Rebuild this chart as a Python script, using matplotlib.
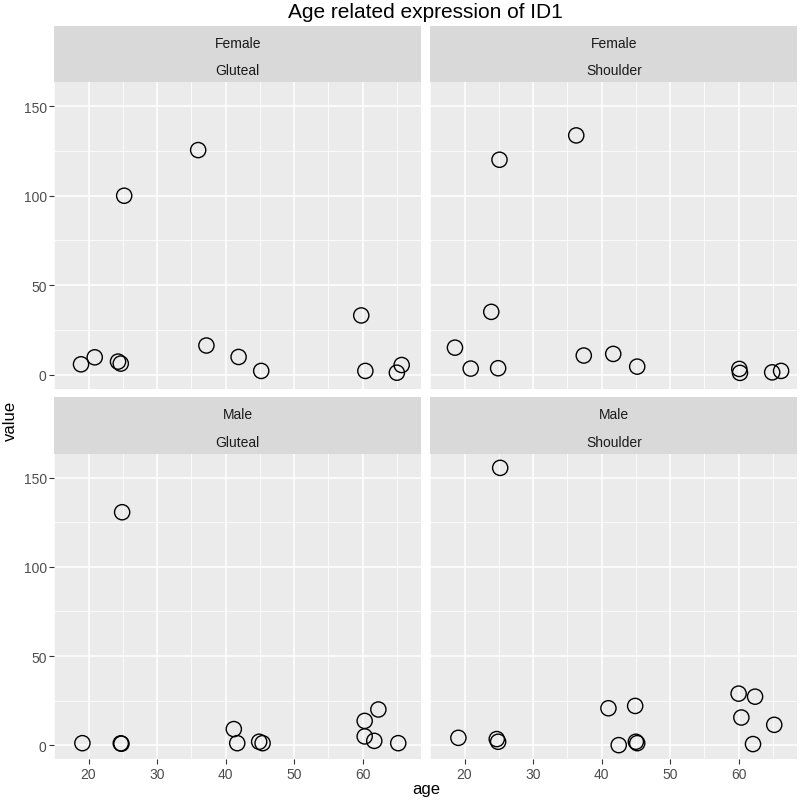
import matplotlib
matplotlib.use("Agg")
import matplotlib.pyplot as plt
import numpy as np

plt.rcParams['font.family'] = ['Liberation Sans', 'DejaVu Sans']

# ---- data ----
sex_levels = ["Female", "Female", "Male", "Male"]
site_levels = ["Gluteal", "Shoulder", "Gluteal", "Shoulder"]

fg_age = [18.9, 20.9, 24.3, 24.7, 25.2, 36.0, 37.2, 41.9, 45.2, 59.8, 60.4, 65.0, 65.7]
fg_val = [5.8, 9.7, 7.3, 6.2, 100.0, 125.5, 16.3, 9.9, 2.1, 33.1, 2.1, 1.1, 5.4]

fs_age = [18.6, 20.9, 23.9, 25.1, 24.9, 36.3, 37.4, 41.7, 45.2, 60.1, 60.2, 64.9, 66.2]
fs_val = [15.1, 3.4, 35.1, 120.1, 3.6, 133.7, 10.7, 11.6, 4.5, 3.2, 1.0, 1.3, 2.1]

mg_age = [19.1, 24.7, 24.8, 24.9, 41.2, 41.7, 44.9, 45.4, 60.3, 60.3, 62.3, 61.7, 65.2]
mg_val = [1.1, 1.0, 0.8, 130.7, 9.0, 1.1, 1.9, 1.1, 13.6, 4.9, 20.0, 2.4, 1.1]

ms_age = [19.1, 24.7, 24.9, 25.2, 41.0, 44.9, 42.5, 45.0, 45.2, 60.0, 62.4, 60.4, 65.2, 62.1]
ms_val = [4.1, 3.4, 1.9, 155.6, 20.7, 22.0, 0.0, 1.9, 1.1, 28.9, 27.2, 15.5, 11.4, 0.6]

x_ticks = [20, 30, 40, 50, 60]
y_ticks = [0, 50, 100, 150]
title = "Age related expression of ID1"

ages = [fg_age, fs_age, mg_age, ms_age]
vals = [fg_val, fs_val, mg_val, ms_val]

# ---- layout ----
W, H = 800, 804
fig = plt.figure(figsize=(W / 100, H / 100), dpi=100)
fig.patch.set_facecolor("white")

def rect(l, t, r, b):
    return [l / W, 1 - b / H, (r - l) / W, (b - t) / H]

cols = [(54.3, 421.4), (430.3, 797.4)]
rows = [(83.3, 389.6), (455.0, 760.0)]
strips = [(26.6, 83.3), (398.3, 455.0)]

all_x = np.concatenate([np.array(a) for a in ages])
all_y = np.concatenate([np.array(v) for v in vals])
xr = all_x.max() - all_x.min()
yr = all_y.max() - all_y.min()
xlim = (all_x.min() - 0.05 * xr, all_x.max() + 0.05 * xr)
ylim = (all_y.min() - 0.05 * yr, all_y.max() + 0.05 * yr)

for i in range(4):
    r, c = divmod(i, 2)
    l, rr = cols[c]
    t, b = rows[r]
    ax = fig.add_axes(rect(l, t, rr, b))
    ax.set_facecolor("#EBEBEB")
    for s in ax.spines.values():
        s.set_visible(False)
    ax.set_xlim(*xlim)
    ax.set_ylim(*ylim)
    ax.set_xticks(x_ticks)
    ax.set_yticks(y_ticks)
    ax.set_xticks([15, 25, 35, 45, 55, 65], minor=True)
    ax.set_yticks([25, 75, 125], minor=True)
    ax.grid(True, which="major", color="white", linewidth=1.1)
    ax.grid(True, which="minor", color="white", linewidth=0.55)
    ax.set_axisbelow(True)
    ax.tick_params(which="minor", length=0)
    ax.tick_params(which="major", length=3.5, width=0.8, color="#333333",
                   labelcolor="#4D4D4D", labelsize=10, pad=2)
    if c != 0:
        ax.tick_params(axis="y", left=False, labelleft=False)
    if r != 1:
        ax.tick_params(axis="x", bottom=False, labelbottom=False)
    ax.scatter(ages[i], vals[i], s=120, facecolors="none", edgecolors="black",
               linewidths=1.0, zorder=3)

    # strip
    st, sb = strips[r]
    sax = fig.add_axes(rect(l, st, rr, sb))
    sax.set_facecolor("#D9D9D9")
    sax.set_xticks([]); sax.set_yticks([])
    for s in sax.spines.values():
        s.set_visible(False)
    sax.text(0.5, 0.70, sex_levels[i], ha="center", va="center",
             fontsize=10, color="#1A1A1A", transform=sax.transAxes)
    sax.text(0.5, 0.215, site_levels[i], ha="center", va="center",
             fontsize=10, color="#1A1A1A", transform=sax.transAxes)

cx = (cols[0][0] + cols[1][1]) / 2
fig.text(cx / W, 1 - 12 / H, title, ha="center", va="center", fontsize=15, color="black")
fig.text(cx / W, 1 - 790 / H, "age", ha="center", va="center", fontsize=12, color="black")
fig.text(10 / W, 1 - 421 / H, "value", ha="center", va="center", rotation=90,
         fontsize=12, color="black")

fig.savefig("out.png", dpi=100, facecolor="white")
